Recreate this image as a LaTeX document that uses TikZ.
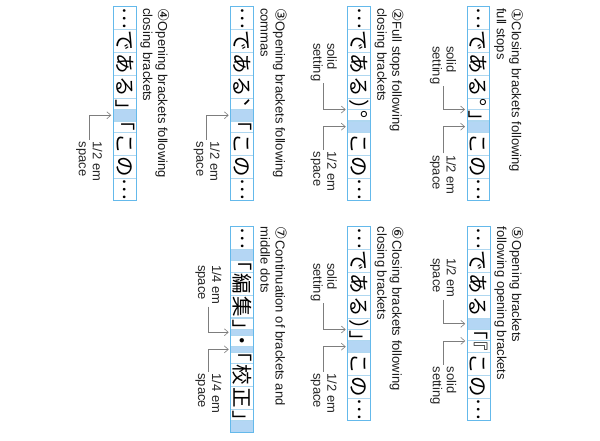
\documentclass[tikz,border=0pt]{standalone}
\usepackage{fontspec}
\setmainfont{Liberation Sans}
\newfontfamily\jpfont{Noto Sans CJK JP}
\newfontfamily\numfont{DejaVu Sans}
\usetikzlibrary{arrows.meta}

\definecolor{colframe}{RGB}{100,185,235}
\definecolor{coldiv}{RGB}{175,215,240}
\definecolor{gapfill}{RGB}{180,214,244}
\definecolor{leadgray}{RGB}{125,125,125}

\newcommand{\circnum}[1]{{\numfont\fontsize{15}{15}\selectfont #1}}

\tikzset{
  glyph/.style={font=\jpfont\fontsize{20.5}{20.5}\selectfont, inner sep=0pt,
                text height=18pt, text depth=2.5pt, rotate=-90},
  frame/.style={draw=colframe, line width=0.9pt},
  divider/.style={draw=coldiv, line width=1.1pt},
  gap/.style={fill=gapfill},
  title/.style={font=\fontsize{13}{15}\selectfont, align=left, inner sep=0pt,
                rotate=-90, anchor=north west, text=black!90},
  note/.style={font=\fontsize{13}{14}\selectfont, align=left, inner sep=1.5pt,
               rotate=-90, anchor=west, text=black!85},
  lead/.style={draw=leadgray, line width=0.6pt,
               -{Straight Barb[length=4pt,width=7pt]}},
}

\begin{document}
\begin{tikzpicture}[x=22.85pt, y=-22.85pt]
\useasboundingbox (0,0) rectangle (26.258,19.256);

% (1) closing brackets after full stops
\begin{scope}[shift={(20.44,0.293)}]
  \fill[gap] (0,5) rectangle (1,5.5);
  \foreach \d in {1,2,3,4,4.5,5,5.5,6.5,7.5} \draw[divider] (0,\d) -- (1,\d);
  \draw[frame] (0,0) rectangle (1,8.5);
  \foreach \g/\p [count=\i] in {で/1.5, あ/2.5, る/3.5, 」/5, こ/6, の/7}
    \node[glyph] (g1-\i) at (0.5,\p) {\g};
  \node[glyph] (d1a) at (0.8,0.5) {…};
  \node[glyph] (d1b) at (0.8,8) {…};
  \node[glyph] (p1) at (0.99,4.47) {。};
  \node[title] (t1) at (2.45,0.06) {\circnum{①}Closing brackets following\\full stops};
  \node[note] (n1a) at (-1.05,1.65) {solid\\setting};
  \node[note] (n1b) at (-1.05,6.42) {1/2 em\\space};
  \coordinate (e1a) at (-0.09,4.5);
  \coordinate (e1b) at (-0.09,5.25);
  \draw[lead] (n1a.east) |- (e1a);
  \draw[lead] (n1b.west) |- (e1b);
\end{scope}

% (2) full stops after closing brackets
\begin{scope}[shift={(15.22,0.293)}]
  \fill[gap] (0,5) rectangle (1,5.5);
  \foreach \d in {1,2,3,4,4.5,5,5.5,6.5,7.5} \draw[divider] (0,\d) -- (1,\d);
  \draw[frame] (0,0) rectangle (1,8.5);
  \foreach \g/\p [count=\i] in {で/1.5, あ/2.5, る/3.5, ）/4.5, こ/6, の/7}
    \node[glyph] (g2-\i) at (0.5,\p) {\g};
  \node[glyph] (d2a) at (0.8,0.5) {…};
  \node[glyph] (d2b) at (0.8,8) {…};
  \node[glyph] (p2) at (0.99,4.97) {。};
  \node[title] (t2) at (2.45,0.06) {\circnum{②}Full stops following\\closing brackets};
  \node[note] (n2a) at (-1.05,1.52) {solid\\setting};
  \node[note] (n2b) at (-1.05,6.27) {1/2 em\\space};
  \coordinate (e2a) at (-0.09,4.5);
  \coordinate (e2b) at (-0.09,5.25);
  \draw[lead] (n2a.east) |- (e2a);
  \draw[lead] (n2b.west) |- (e2b);
\end{scope}

% (3) opening brackets after commas
\begin{scope}[shift={(10.10,0.293)}]
  \fill[gap] (0,4.5) rectangle (1,5);
  \foreach \d in {1,2,3,4,4.5,5,5.5,6.5,7.5} \draw[divider] (0,\d) -- (1,\d);
  \draw[frame] (0,0) rectangle (1,8.5);
  \foreach \g/\p [count=\i] in {で/1.5, あ/2.5, る/3.5, 「/5, こ/6, の/7}
    \node[glyph] (g3-\i) at (0.5,\p) {\g};
  \node[glyph] (d3a) at (0.8,0.5) {…};
  \node[glyph] (d3b) at (0.8,8) {…};
  \node[glyph] (p3) at (0.99,4.47) {、};
  \node[title] (t3) at (2.45,0.06) {\circnum{③}Opening brackets following\\commas};
  \node[note] (n3) at (-1.05,5.83) {1/2 em\\space};
  \coordinate (e3) at (-0.09,4.75);
  \draw[lead] (n3.west) |- (e3);
\end{scope}

% (4) opening brackets after closing brackets
\begin{scope}[shift={(4.96,0.293)}]
  \fill[gap] (0,4.5) rectangle (1,5);
  \foreach \d in {1,2,3,4,4.5,5,5.5,6.5,7.5} \draw[divider] (0,\d) -- (1,\d);
  \draw[frame] (0,0) rectangle (1,8.5);
  \foreach \g/\p [count=\i] in {で/1.5, あ/2.5, る/3.5, 」/4.5, 「/5, こ/6, の/7}
    \node[glyph] (g4-\i) at (0.5,\p) {\g};
  \node[glyph] (d4a) at (0.8,0.5) {…};
  \node[glyph] (d4b) at (0.8,8) {…};
  \node[title] (t4) at (2.45,0.06) {\circnum{④}Opening brackets following\\closing brackets};
  \node[note] (n4) at (-1.05,5.83) {1/2 em\\space};
  \coordinate (e4) at (-0.09,4.75);
  \draw[lead] (n4.west) |- (e4);
\end{scope}

% (5) opening brackets after opening brackets
\begin{scope}[shift={(20.45,9.92)}]
  \fill[gap] (0,4) rectangle (1,4.5);
  \foreach \d in {1,2,3,4,4.5,5,5.5,6.5,7.5} \draw[divider] (0,\d) -- (1,\d);
  \draw[frame] (0,0) rectangle (1,8.5);
  \foreach \g/\p [count=\i] in {で/1.5, あ/2.5, る/3.5, 「/4.5, 『/5, こ/6, の/7}
    \node[glyph] (g5-\i) at (0.5,\p) {\g};
  \node[glyph] (d5a) at (0.8,0.5) {…};
  \node[glyph] (d5b) at (0.8,8) {…};
  \node[title] (t5) at (2.45,0) {\circnum{⑤}Opening brackets\\following opening brackets};
  \node[note] (n5a) at (-1.05,1.30) {1/2 em\\space};
  \node[note] (n5b) at (-1.05,6.05) {solid\\setting};
  \coordinate (e5a) at (-0.09,4.25);
  \coordinate (e5b) at (-0.09,5);
  \draw[lead] (n5a.east) |- (e5a);
  \draw[lead] (n5b.west) |- (e5b);
\end{scope}

% (6) closing brackets after closing brackets
\begin{scope}[shift={(15.22,9.92)}]
  \fill[gap] (0,5) rectangle (1,5.5);
  \foreach \d in {1,2,3,4,4.5,5,5.5,6.5,7.5} \draw[divider] (0,\d) -- (1,\d);
  \draw[frame] (0,0) rectangle (1,8.5);
  \foreach \g/\p [count=\i] in {で/1.5, あ/2.5, る/3.5, ）/4.5, 」/5, こ/6, の/7}
    \node[glyph] (g6-\i) at (0.5,\p) {\g};
  \node[glyph] (d6a) at (0.8,0.5) {…};
  \node[glyph] (d6b) at (0.8,8) {…};
  \node[title] (t6) at (2.45,0) {\circnum{⑥}Closing brackets following\\closing brackets};
  \node[note] (n6a) at (-1.05,1.52) {solid\\setting};
  \node[note] (n6b) at (-1.05,6.35) {1/2 em\\space};
  \coordinate (e6a) at (-0.09,4.5);
  \coordinate (e6b) at (-0.09,5.25);
  \draw[lead] (n6a.east) |- (e6a);
  \draw[lead] (n6b.west) |- (e6b);
\end{scope}

% (7) brackets and middle dots
\begin{scope}[shift={(10.10,9.915)}]
  \foreach \a/\b in {1/1.5, 4.5/4.75, 5.25/5.5, 8.5/9} \fill[gap] (0,\a) rectangle (1,\b);
  \foreach \d in {1,1.5,2,3,4,4.5,4.75,5.25,5.5,6,7,8,8.5} \draw[divider] (0,\d) -- (1,\d);
  \draw[frame] (0,0) rectangle (1,9);
  \foreach \g/\p [count=\i] in {「/1.5, 編/2.5, 集/3.5, 」/4.5, ・/5, 「/5.5, 校/6.5, 正/7.5, 」/8.5}
    \node[glyph] (g7-\i) at (0.5,\p) {\g};
  \node[glyph] (d7) at (0.8,0.5) {…};
  \node[title] (t7) at (2.45,0) {\circnum{⑦}Continuation of brackets and\\middle dots};
  \node[note] (n7a) at (-0.98,1.61) {1/4 em\\space};
  \node[note] (n7b) at (-0.98,6.35) {1/4 em\\space};
  \coordinate (e7a) at (-0.09,4.625);
  \coordinate (e7b) at (-0.09,5.375);
  \draw[lead] (n7a.east) |- (e7a);
  \draw[lead] (n7b.west) |- (e7b);
\end{scope}

\end{tikzpicture}
\end{document}
